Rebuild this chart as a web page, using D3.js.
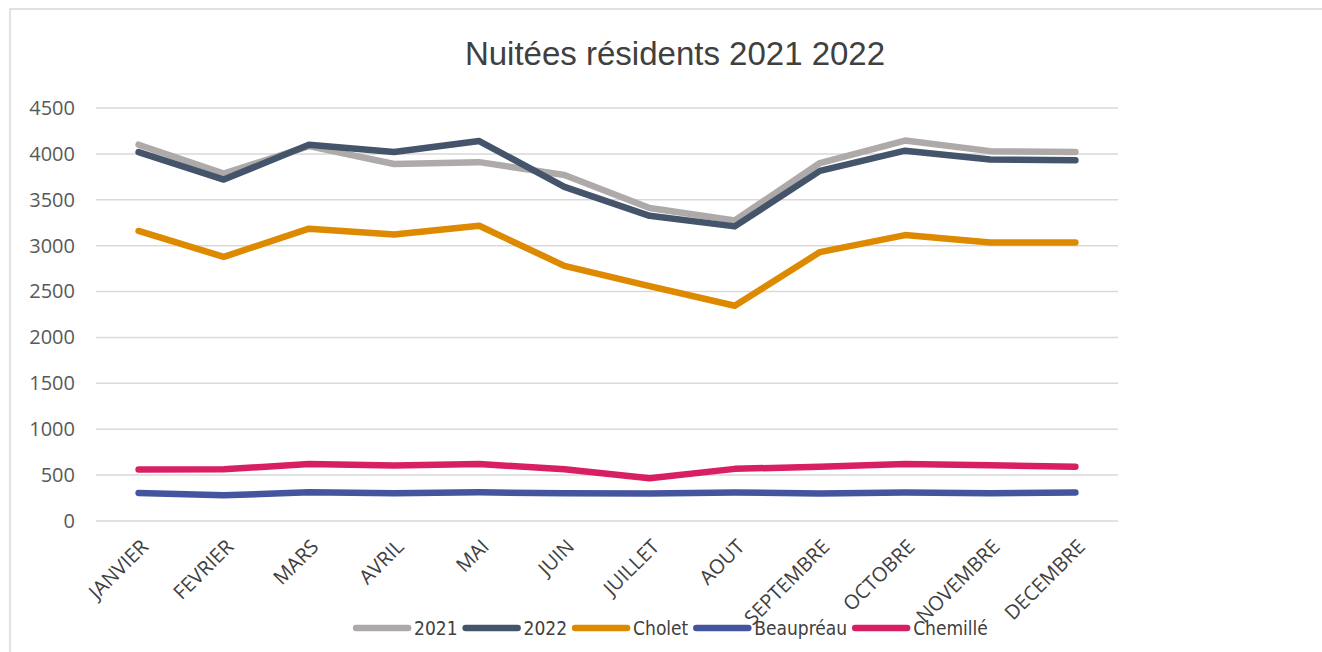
<!DOCTYPE html>
<html>
<head>
<meta charset="utf-8">
<script src="https://cdn.jsdelivr.net/npm/d3@7"></script>
<style>
  body { margin: 0; background: #fff; }
</style>
</head>
<body>
<script>
var months = ["JANVIER", "FEVRIER", "MARS", "AVRIL", "MAI", "JUIN", "JUILLET", "AOUT", "SEPTEMBRE", "OCTOBRE", "NOVEMBRE", "DECEMBRE"];
var yTicks = [0, 500, 1000, 1500, 2000, 2500, 3000, 3500, 4000, 4500];

var v2021 = [4100, 3785, 4085, 3890, 3910, 3770, 3410, 3275, 3900, 4145, 4030, 4020];
var v2022 = [4020, 3720, 4100, 4020, 4140, 3640, 3325, 3210, 3815, 4035, 3940, 3930];
var cholet = [3160, 2878, 3185, 3122, 3217, 2780, 2560, 2345, 2930, 3115, 3035, 3035];
var beaupreau = [305, 280, 312, 302, 312, 302, 300, 310, 300, 310, 302, 310];
var chemille = [560, 563, 622, 605, 620, 565, 465, 568, 592, 622, 608, 592];

var seriesNames = ["2021", "2022", "Cholet", "Beaupréau", "Chemillé"];
var seriesValues = [v2021, v2022, cholet, beaupreau, chemille];
var seriesColors = ["#adaaa9", "#44546a", "#de8a00", "#44549e", "#d91f63"];

var svgWidth = 1322;
var svgHeight = 652;
var plotLeft = 96, plotRight = 1118, plotTop = 108, plotBottom = 521;

var svg = d3.select("body").append("svg")
  .attr("width", svgWidth).attr("height", svgHeight);

// chart frame
svg.append("rect")
  .attr("x", 10).attr("y", 9)
  .attr("width", 1340).attr("height", 700)
  .attr("fill", "none")
  .attr("stroke", "#d9d9d9")
  .attr("stroke-width", 1.5);

svg.append("text")
  .text("Nuitées résidents 2021 2022")
  .attr("x", 675).attr("y", 65)
  .attr("text-anchor", "middle")
  .attr("font-family", "'Liberation Sans Narrow', 'Arial Narrow', sans-serif")
  .attr("font-size", "33px")
  .attr("fill", "#404040");

var x = d3.scaleBand().domain(months).range([plotLeft, plotRight]);
var y = d3.scaleLinear().domain([0, 4500]).range([plotBottom, plotTop]);

// gridlines
svg.append("g")
  .selectAll("line").data(yTicks).enter()
  .append("line")
  .attr("x1", plotLeft).attr("x2", plotRight)
  .attr("y1", function(d){ return y(d); })
  .attr("y2", function(d){ return y(d); })
  .attr("stroke", "#d9d9d9")
  .attr("stroke-width", 1.5);

var yAxis = svg.append("g")
  .attr("transform", "translate(" + (plotLeft - 21) + ",0)")
  .call(d3.axisLeft(y).tickValues(yTicks).tickFormat(d3.format("d")).tickSize(0).tickPadding(0));
yAxis.select(".domain").remove();
yAxis.selectAll("text")
  .attr("font-family", "'Open Sans', sans-serif")
  .attr("font-size", "20px")
  .attr("fill", "#595959");

var xAxis = svg.append("g")
  .attr("transform", "translate(0," + plotBottom + ")")
  .call(d3.axisBottom(x).tickSize(0).tickPadding(0));
xAxis.select(".domain").remove();
xAxis.selectAll("text")
  .attr("font-family", "'Open Sans', sans-serif")
  .attr("font-size", "20px")
  .attr("fill", "#404040")
  .attr("text-anchor", "end")
  .attr("dy", "0.35em")
  .attr("transform", "translate(6,22) rotate(-45)");

var line = d3.line()
  .x(function(d, i){ return x(months[i]) + x.bandwidth() / 2; })
  .y(function(d){ return y(d); });

svg.append("g")
  .selectAll("path").data(seriesValues).enter()
  .append("path")
  .attr("d", line)
  .attr("fill", "none")
  .attr("stroke", function(d, i){ return seriesColors[i]; })
  .attr("stroke-width", 6.5)
  .attr("stroke-linecap", "round")
  .attr("stroke-linejoin", "round");

// legend
var legend = svg.append("g");
var lx = 0;
seriesNames.forEach(function(name, i){
  var g = legend.append("g").attr("transform", "translate(" + lx + ",0)");
  g.append("line")
    .attr("x1", 3).attr("x2", 55)
    .attr("y1", 0).attr("y2", 0)
    .attr("stroke", seriesColors[i])
    .attr("stroke-width", 6.5)
    .attr("stroke-linecap", "round");
  var t = g.append("text")
    .text(name)
    .attr("x", 61).attr("y", 0)
    .attr("dy", "0.36em")
    .attr("font-family", "'DejaVu Sans Condensed', sans-serif")
    .attr("font-stretch", "condensed")
    .attr("font-size", "19px")
    .attr("fill", "#404040");
  lx += 61 + t.node().getComputedTextLength() + 5;
});
legend.attr("transform", "translate(" + (673 - lx / 2) + ",628)");
</script>
</body>
</html>
